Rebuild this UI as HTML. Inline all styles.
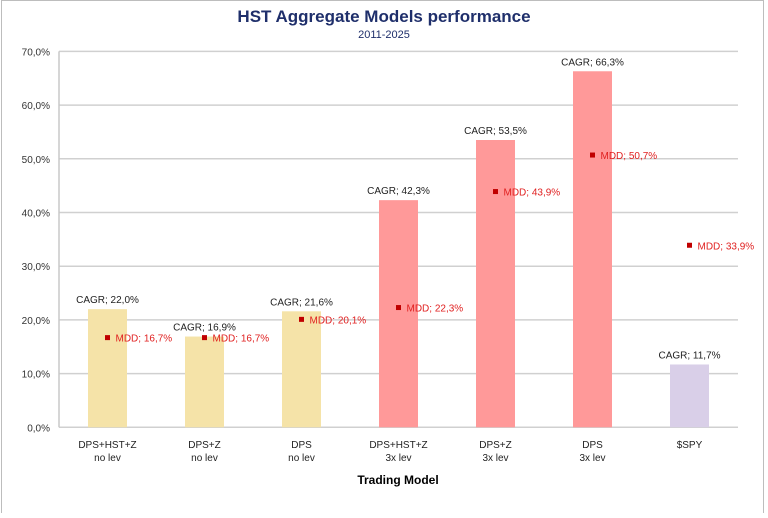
<!DOCTYPE html>
<html><head><meta charset="utf-8"><style>
body{margin:0;background:#fff}
svg text{font-family:"Liberation Sans",sans-serif}
</style></head><body>
<svg width="768" height="513" xmlns="http://www.w3.org/2000/svg">
<rect x="1.5" y="0.5" width="762" height="520" fill="#fff" stroke="#bdbdbd"/>
<text x="384" y="22" text-anchor="middle" font-size="17" font-weight="bold" fill="#1f2f6b">HST  Aggregate Models performance</text>
<text x="384" y="38" text-anchor="middle" font-size="11" fill="#1f2f6b">2011-2025</text>
<g id="grid"></g>
<g id="bars"></g>
<text x="398" y="484" text-anchor="middle" font-size="12" font-weight="bold" fill="#000">Trading Model</text>
</svg>
<script>
const categories=[["DPS+HST+Z","no lev"],["DPS+Z","no lev"],["DPS","no lev"],["DPS+HST+Z","3x lev"],["DPS+Z","3x lev"],["DPS","3x lev"],["$SPY",""]];
const cagr=[22.0,16.9,21.6,42.3,53.5,66.3,11.7];
const mdd=[16.7,16.7,20.1,22.3,43.9,50.7,33.9];
const colors=["#f5e3a8","#f5e3a8","#f5e3a8","#ff9999","#ff9999","#ff9999","#d9cfe8"];
const ticks=[0,10,20,30,40,50,60,70];
const NS="http://www.w3.org/2000/svg";
const left=59,right=738,y0=427.3,pxPer=5.37,band=97;
const y=v=>y0-v*pxPer, xc=i=>left+band/2+i*band;
function mk(t,a,p){const e=document.createElementNS(NS,t);for(const k in a)e.setAttribute(k,a[k]);p.appendChild(e);return e;}
const g=document.getElementById('grid'), b=document.getElementById('bars');
ticks.forEach(t=>{
  const l=mk('line',{x1:left,x2:right,y1:y(t),y2:y(t),stroke:'#d0d0d0','stroke-width':1.5},g);
  
  
  const tx=mk('text',{x:50,y:y(t)+4,'text-anchor':'end','font-size':10,fill:'#333'},g);
  tx.textContent=t.toFixed(1).replace('.',',')+'%';
  
  
});
const ax=mk('line',{x1:left,x2:left,y1:y(70),y2:y0,stroke:'#c8c8c8','stroke-width':1.5},g);


cagr.forEach((v,i)=>{
  const r=mk('rect',{x:xc(i)-19.5,y:y(v),width:39,height:v*pxPer,fill:colors[i]},b);
  
  
  const t=mk('text',{x:xc(i),y:y(v)-6,'text-anchor':'middle','font-size':10,fill:'#222'},b);
  t.textContent='CAGR; '+v.toFixed(1).replace('.',',')+'%';
  
  
  const m=mk('rect',{x:xc(i)-2.5,y:y(mdd[i])-2.5,width:5,height:5,fill:'#c00000'},b);
  
  
  const mt=mk('text',{x:xc(i)+8,y:y(mdd[i])+4,'font-size':10,fill:'#e02020'},b);
  mt.textContent='MDD; '+mdd[i].toFixed(1).replace('.',',')+'%';
  
  
  categories[i].forEach((s,k)=>{
    const c=mk('text',{x:xc(i),y:448+k*13,'text-anchor':'middle','font-size':10,fill:'#222'},b);
    c.textContent=s;
    
    
  });
});
</script>
</body></html>
